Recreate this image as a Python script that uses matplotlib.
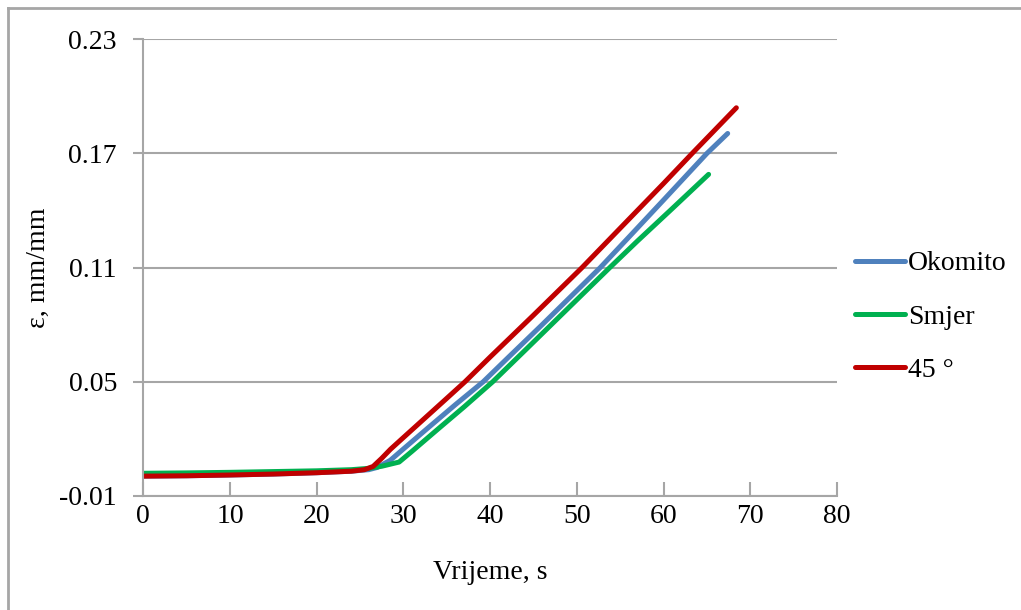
import matplotlib
matplotlib.use("Agg")
import matplotlib.pyplot as plt
from matplotlib.lines import Line2D

plt.rcParams['font.family'] = ['Liberation Serif', 'DejaVu Serif']

# Okomito
x_okomito = [0, 5, 10, 15, 20, 24, 26, 27, 28.5, 30, 33, 36, 39.2, 42, 46, 52.7, 56, 60, 65.0, 67.4]
y_okomito = [0.0004, 0.0006, 0.001, 0.0015, 0.0022, 0.003, 0.0038, 0.0050, 0.0088, 0.0147, 0.0264,
             0.038, 0.05, 0.0624, 0.080, 0.11, 0.126, 0.1455, 0.17, 0.1805]

# Smjer
x_smjer = [0, 5, 10, 15, 20, 24, 26, 27.5, 29.5, 31, 34, 37, 40.3, 44, 48, 53.8, 57, 61, 65.2]
y_smjer = [0.0019, 0.0021, 0.0024, 0.0028, 0.0032, 0.0038, 0.0045, 0.0056, 0.0078, 0.0135,
           0.0252, 0.0368, 0.05, 0.0664, 0.0842, 0.11, 0.124, 0.141, 0.159]

# 45 °
x_45 = [0, 5, 10, 15, 20, 24, 25.5, 26.5, 27.5, 28.5, 30, 32.5, 35, 37.1, 40, 45, 50.6, 55, 60, 63.3, 68.4]
y_45 = [0.0004, 0.0006, 0.001, 0.0015, 0.0022, 0.003, 0.0038, 0.0055, 0.0098, 0.0145, 0.0207, 0.031,
        0.0413, 0.05, 0.063, 0.085, 0.11, 0.1307, 0.1542, 0.17, 0.194]

x_ticks = [0, 10, 20, 30, 40, 50, 60, 70, 80]
y_ticks = [-0.01, 0.05, 0.11, 0.17, 0.23]
y_tick_labels = ['-0.01', '0.05', '0.11', '0.17', '0.23']

fig = plt.figure(figsize=(10.21, 6.10), dpi=100)
ax = fig.add_axes([0.1404, 0.187, 0.6793, 0.7486])

ax.plot(x_okomito, y_okomito, color='#4F81BD', lw=3.6, solid_capstyle='round', label='Okomito')
ax.plot(x_smjer, y_smjer, color='#00B050', lw=3.6, solid_capstyle='round', label='Smjer')
ax.plot(x_45, y_45, color='#C00000', lw=3.6, solid_capstyle='round', label='45 °')

ax.set_xlim(0, 80)
ax.set_ylim(-0.01, 0.23)
ax.set_xticks(x_ticks)
ax.set_yticks(y_ticks)
ax.set_yticklabels(y_tick_labels)
ax.grid(axis='y', color='#A6A6A6', lw=1.5)
ax.set_axisbelow(True)

for s in ['top', 'right']:
    ax.spines[s].set_visible(False)
for s in ['left', 'bottom']:
    ax.spines[s].set_color('#A6A6A6')
    ax.spines[s].set_linewidth(1.5)

ax.tick_params(axis='x', direction='in', length=10, width=1.5, color='#A6A6A6',
               labelsize=20, pad=6)
ax.tick_params(axis='y', direction='out', length=7, width=1.5, color='#A6A6A6',
               labelsize=20, pad=12)

ax.set_xlabel('Vrijeme, s', fontsize=20, labelpad=22)
ax.set_ylabel('ε, mm/mm', fontsize=20, labelpad=6)

fig.legend(loc='upper left', bbox_to_anchor=(0.827, 0.607), frameon=False, fontsize=20,
           handlelength=1.8, handletextpad=0.1, labelspacing=1.0, borderaxespad=0)

# rub slike
fig.add_artist(Line2D([0.008, 0.008], [0, 0.987], color='#A6A6A6', lw=2))
fig.add_artist(Line2D([0.008, 1], [0.987, 0.987], color='#A6A6A6', lw=2))

fig.savefig('out.png', dpi=100)
